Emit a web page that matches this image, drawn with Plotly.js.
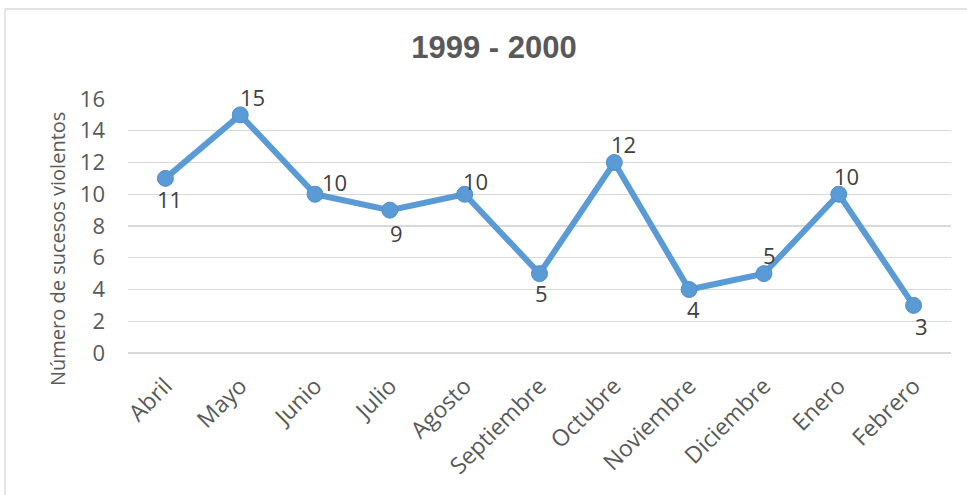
<!DOCTYPE html>
<html>
<head>
<meta charset="utf-8">
<script src="https://cdn.plot.ly/plotly-3.0.1.min.js"></script>
<style>html,body{margin:0;padding:0;background:#fff;}#chart{width:967px;height:495px;}</style>
</head>
<body>
<div id="chart"></div>
<script>
const months = ["Abril","Mayo","Junio","Julio","Agosto","Septiembre","Octubre","Noviembre","Diciembre","Enero","Febrero"];
const sucesos = [11, 15, 10, 9, 10, 5, 12, 4, 5, 10, 3];
const yTicks = [0, 2, 4, 6, 8, 10, 12, 14, 16];
const chartTitle = "1999 - 2000";
const yTitle = "Número de sucesos violentos";

// label placement (style only): [xshift, yshift] in px
const labelShift = [[4,-21],[12,18],[19,12],[7,-23],[11,13],[2,-19],[9,19],[4,-19],[6,19],[8,18],[8,-21]];

const W = 967, H = 495;
const M = {l:128, r:16, t:99, b:142};
const pw = W - M.l - M.r, ph = H - M.t - M.b;
const px2x = px => (px - M.l) / pw;
const py2y = py => (H - M.b - py) / ph;

const annotations = months.map((m, i) => ({
  x: m, y: sucesos[i], xref: 'x', yref: 'y',
  text: String(sucesos[i]), showarrow: false,
  xshift: labelShift[i][0], yshift: labelShift[i][1],
  font: {family: 'Open Sans', size: 22, color: '#404040'}
}));
annotations.push({
  xref: 'paper', yref: 'paper', x: px2x(57), y: py2y(249),
  text: yTitle, textangle: -90, showarrow: false,
  xanchor: 'center', yanchor: 'middle',
  font: {family: 'Open Sans', size: 20, color: '#595959'}
});

const trace = {
  x: months, y: sucesos, type: 'scatter', mode: 'lines+markers',
  line: {color: '#5B9BD5', width: 6},
  marker: {color: '#5B9BD5', size: 16, line: {color: '#4F8FCB', width: 1}},
  hoverinfo: 'skip'
};

const layout = {
  width: W, height: H,
  margin: M,
  paper_bgcolor: '#ffffff', plot_bgcolor: '#ffffff',
  showlegend: false,
  title: {
    text: '<b>' + chartTitle + '</b>',
    x: 494 / W, xref: 'container', xanchor: 'center',
    y: 1 - 47 / H, yref: 'container', yanchor: 'middle',
    font: {family: 'Liberation Sans, Arial', size: 31, color: '#595959'}
  },
  xaxis: {
    type: 'category', range: [-0.5, months.length - 0.5],
    tickangle: -45, showgrid: false, zeroline: false, showline: false,
    ticks: '', ticklabelstandoff: 14,
    tickfont: {family: 'Open Sans', size: 23, color: '#595959'}
  },
  yaxis: {
    range: [0, 16], tickvals: yTicks, ticktext: yTicks.map(String),
    showgrid: true, gridcolor: '#D9D9D9', gridwidth: 1.3,
    zeroline: true, zerolinecolor: '#D9D9D9', zerolinewidth: 2,
    showline: false, ticks: '', ticklabelstandoff: 22,
    tickfont: {family: 'Open Sans', size: 22, color: '#595959'}
  },
  annotations: annotations,
  shapes: [
    {type: 'line', xref: 'paper', yref: 'paper', x0: px2x(5), x1: px2x(W + 5), y0: py2y(9), y1: py2y(9), line: {color: '#D9D9D9', width: 1.3}},
    {type: 'line', xref: 'paper', yref: 'paper', x0: px2x(5), x1: px2x(5), y0: py2y(9), y1: py2y(H + 5), line: {color: '#D9D9D9', width: 1.3}}
  ]
};

Plotly.newPlot('chart', [trace], layout, {displayModeBar: false, staticPlot: true});
</script>
</body>
</html>
